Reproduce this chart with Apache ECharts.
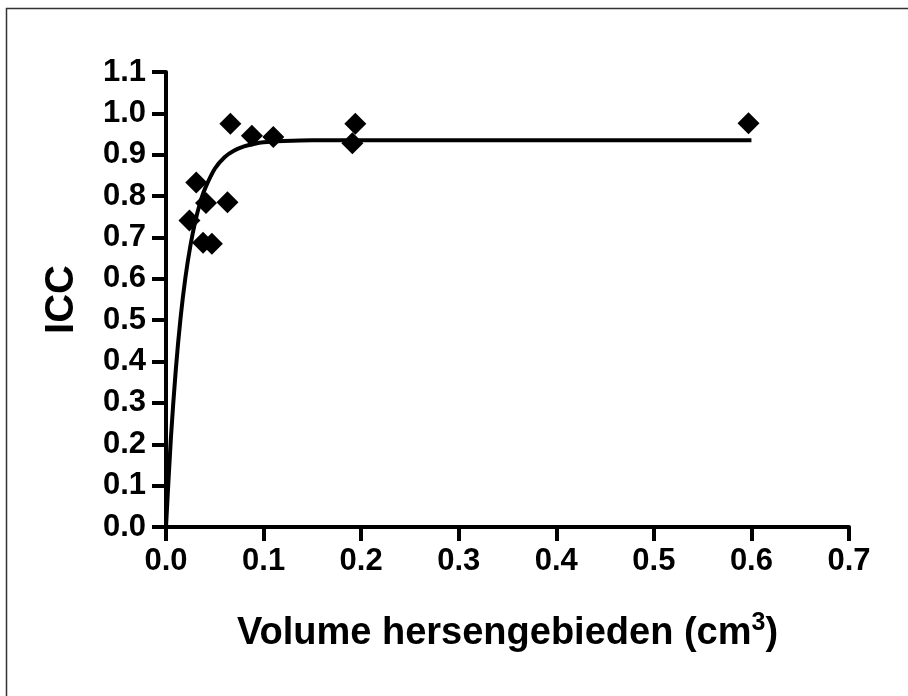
<!DOCTYPE html>
<html>
<head>
<meta charset="utf-8">
<script src="https://cdn.jsdelivr.net/npm/echarts@6/dist/echarts.min.js"></script>
<style>
  html, body { margin: 0; padding: 0; background: #fff; }
  #main { width: 908px; height: 696px; }
</style>
</head>
<body>
<div id="main"></div>
<script>
// measured points (volume in cm3, ICC)
var pointX = [0.024, 0.031, 0.038, 0.041, 0.047, 0.063, 0.066, 0.088, 0.110, 0.191, 0.194, 0.597];
var pointY = [0.741, 0.833, 0.687, 0.783, 0.685, 0.785, 0.975, 0.946, 0.943, 0.928, 0.975, 0.976];

// fitted curve
var curveX = [0, 0.005, 0.010, 0.015, 0.020, 0.025, 0.030, 0.035, 0.040, 0.050, 0.060, 0.070, 0.080, 0.090, 0.100, 0.120, 0.150, 0.200, 0.300, 0.400, 0.500, 0.600];
var curveY = [0, 0.214, 0.379, 0.507, 0.605, 0.680, 0.739, 0.784, 0.818, 0.866, 0.894, 0.910, 0.920, 0.926, 0.930, 0.933, 0.935, 0.935, 0.935, 0.935, 0.935, 0.935];

var xTicks = { min: 0, max: 0.7, interval: 0.1 };
var yTicks = { min: 0, max: 1.1, interval: 0.1 };

var myChart = echarts.init(document.getElementById("main"));

var font = "'Liberation Sans', Arial, sans-serif";

var option = {
  backgroundColor: "#fff",
  animation: false,
  grid: { left: 166, top: 72, right: 59, bottom: 169 },
  graphic: [
    {
      type: "rect",
      shape: { x: 6.5, y: 8.5, width: 1000, height: 1000 },
      style: { fill: null, stroke: "#333", lineWidth: 1.5 },
      silent: true
    }
  ],
  xAxis: {
    type: "value",
    min: xTicks.min,
    max: xTicks.max,
    interval: xTicks.interval,
    splitLine: { show: false },
    axisLine: { onZero: false, lineStyle: { color: "#000", width: 4 } },
    axisTick: { length: 14, lineStyle: { color: "#000", width: 4 } },
    axisLabel: {
      margin: 19,
      color: "#000",
      fontFamily: font,
      fontWeight: "bold",
      fontSize: 31,
      formatter: function (v) { return v.toFixed(1); }
    },
    name: "{a|Volume hersengebieden (cm}{s|3}{a|)}",
    nameLocation: "middle",
    nameGap: 84,
    nameTextStyle: {
      rich: {
        a: { fontFamily: font, fontWeight: "bold", fontSize: 38, color: "#000" },
        s: { fontFamily: font, fontWeight: "bold", fontSize: 25, color: "#000", padding: [0, 0, 20, 0] }
      }
    }
  },
  yAxis: {
    type: "value",
    min: yTicks.min,
    max: yTicks.max,
    interval: yTicks.interval,
    splitLine: { show: false },
    axisLine: { onZero: false, lineStyle: { color: "#000", width: 4 } },
    axisTick: { length: 14, lineStyle: { color: "#000", width: 4 } },
    axisLabel: {
      margin: 20,
      color: "#000",
      fontFamily: font,
      fontWeight: "bold",
      fontSize: 31,
      formatter: function (v) { return v.toFixed(1); }
    },
    name: "ICC",
    nameLocation: "middle",
    nameGap: 84,
    nameTextStyle: { fontFamily: font, fontWeight: "bold", fontSize: 40, color: "#000" }
  },
  series: [
    {
      name: "fit",
      type: "line",
      data: curveX.map(function (x, i) { return [x, curveY[i]]; }),
      smooth: 0.3,
      showSymbol: false,
      lineStyle: { color: "#000", width: 4 },
      z: 2
    },
    {
      name: "ICC",
      type: "scatter",
      data: pointX.map(function (x, i) { return [x, pointY[i]]; }),
      symbol: "diamond",
      symbolSize: [22, 22],
      itemStyle: { color: "#000", opacity: 1 },
      z: 3
    }
  ]
};

myChart.setOption(option);
</script>
</body>
</html>
